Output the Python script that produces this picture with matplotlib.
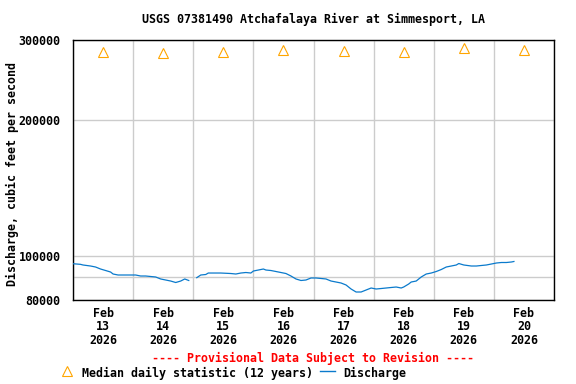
import datetime as dt
import numpy as np
import matplotlib
matplotlib.use('Agg')
import matplotlib.pyplot as plt
import matplotlib.dates as mdates
import matplotlib.ticker as mticker
from matplotlib.lines import Line2D
from matplotlib.font_manager import FontProperties

# hours after 2026-02-13 00:00 and discharge, cfs (nan = gap in record)
hours = [0, 3, 4, 7, 9, 11, 13, 15, 16, 18,
         21, 23, 25, 27, 29, 31, 33, 35, 37, 39,
         41, 43, 44.6, 46.2, 47, 49.4, 51, 53, 54, 55,
         59, 63, 65, 67, 69, 71, 72, 74, 76, 77,
         79, 81, 83, 85, 87, 89, 91, 93, 95, 97,
         99, 101, 103, 105, 107, 109, 111, 113, 115, 117,
         119, 121, 123, 125, 127, 129, 131, 132, 134, 135,
         137, 139, 141, 143, 145, 147, 149, 151, 153, 154,
         156, 159, 161, 163, 165, 167, 169, 171, 173, 175,
         176]
discharge = [96200, 95900, 95580, 95090, 94610, 93650, 92940, 92230, 91300, 90840,
             90840, 90840, 90840, 90380, 90380, 90150, 89930, 89020, 88560, 88100,
             87440, 88100, 89020, 88340, np.nan, 89610, 90840, 91070, 91760, 91760,
             91760, 91530, 91300, 91760, 92000, 91760, 92700, 93170, 93650, 93170,
             92940, 92470, 92000, 91530, 90380, 89020, 88340, 88560, 89470, 89470,
             89250, 89020, 88100, 87660, 87220, 86340, 84600, 83320, 83320, 84170,
             85030, 84600, 84810, 85030, 85250, 85460, 85030, 85460, 86780, 87660,
             88100, 89930, 91300, 91760, 92470, 93410, 94610, 95090, 95580, 96300,
             95580, 95090, 95090, 95340, 95580, 96060, 96550, 96800, 96800, 97050,
             97300]

stat_days = [13, 14, 15, 16, 17, 18, 19, 20]
stat_median = [282000, 280700, 282000, 285000, 283600, 282000, 288000, 285000]

y_ticks = [80000, 90000, 100000, 200000, 300000]
y_labels = ['80000', '', '100000', '200000', '300000']

start = dt.datetime(2026, 2, 13)
times = [start + dt.timedelta(hours=h) for h in hours]
stat_times = [dt.datetime(2026, 2, d, 12) for d in stat_days]

font = {'family': 'DejaVu Sans Mono', 'weight': 'bold', 'size': 8.4}
blue = '#0A7ACC'
orange = '#FFA500'

fig = plt.figure(figsize=(5.76, 3.84), dpi=100)
ax = fig.add_axes([73 / 576, 1 - 300 / 384, 481 / 576, 260 / 384])

ax.plot(times, discharge, color=blue, linewidth=0.9, zorder=3)
ax.plot(stat_times, stat_median, linestyle='none', marker='^', markersize=7,
        markerfacecolor='none', markeredgecolor=orange, markeredgewidth=0.8,
        zorder=4, clip_on=False)

ax.set_yscale('log')
ax.set_ylim(80000, 300000)
ax.yaxis.set_major_locator(mticker.FixedLocator(y_ticks))
ax.yaxis.set_major_formatter(mticker.FixedFormatter(y_labels))
ax.yaxis.set_minor_locator(mticker.NullLocator())

ax.set_xlim(start, start + dt.timedelta(days=8))
ax.xaxis.set_major_locator(mticker.FixedLocator(mdates.date2num(stat_times)))
ax.xaxis.set_major_formatter(mdates.DateFormatter('%b\n%d\n%Y'))
ax.xaxis.set_minor_locator(mdates.DayLocator())

ax.grid(False)
ax.grid(True, which='minor', axis='x', color='#CCCCCC', linewidth=1.0)
ax.grid(True, which='major', axis='y', color='#CCCCCC', linewidth=1.0)
ax.tick_params(which='both', length=0)
ax.tick_params(axis='y', pad=9)
ax.tick_params(axis='x', pad=5)
for lab in ax.get_xticklabels() + ax.get_yticklabels():
    lab.set_fontproperties(FontProperties(**font))
    lab.set_linespacing(1.05)
for s in ax.spines.values():
    s.set_linewidth(1.0)
    s.set_color('black')

fig.text(313.5 / 576, 1 - 19 / 384, 'USGS 07381490 Atchafalaya River at Simmesport, LA',
         ha='center', va='center', **font)
fig.text(12 / 576, 1 - 174 / 384, 'Discharge, cubic feet per second',
         ha='center', va='center', rotation=90, **font)
fig.text(313.5 / 576, 1 - 358 / 384, '---- Provisional Data Subject to Revision ----',
         ha='center', va='center', color='red', **font)

# legend row
fig.add_artist(Line2D([67 / 576], [1 - 371 / 384], marker='^', markersize=7,
                      markerfacecolor='none', markeredgecolor=orange,
                      markeredgewidth=0.8, transform=fig.transFigure))
fig.text(82 / 576, 1 - 373 / 384, 'Median daily statistic (12 years)',
         ha='left', va='center', **font)
fig.add_artist(Line2D([320 / 576, 335 / 576], [1 - 371 / 384] * 2, color=blue,
                      linewidth=1.0, transform=fig.transFigure))
fig.text(343 / 576, 1 - 373 / 384, 'Discharge', ha='left', va='center', **font)

fig.savefig('out.png', dpi=100)
